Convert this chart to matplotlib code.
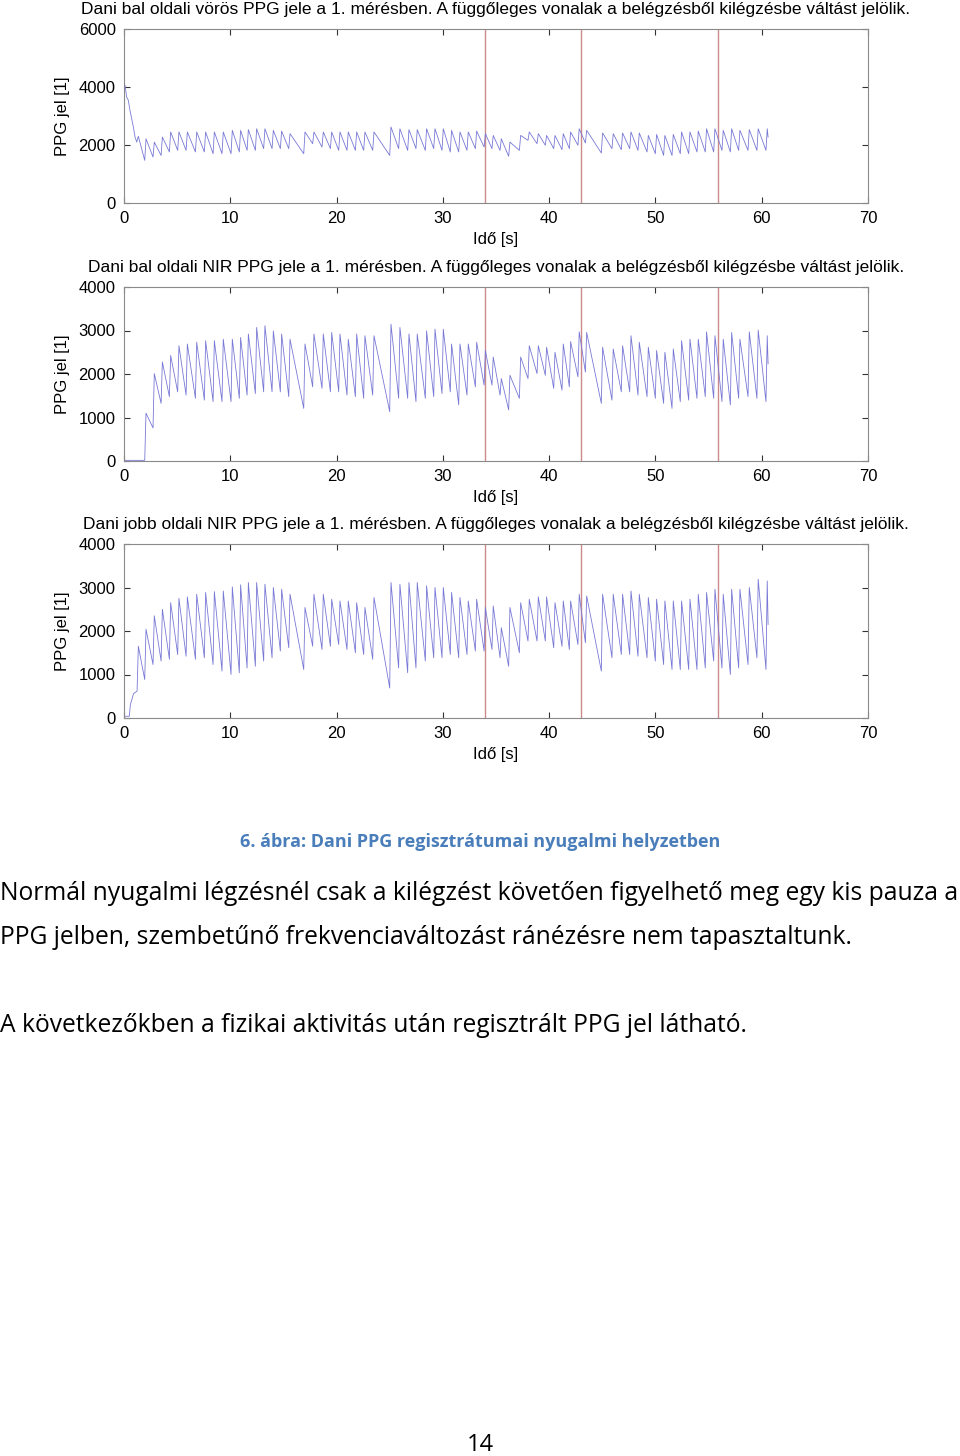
import numpy as np
import matplotlib
matplotlib.use("Agg")
import matplotlib.pyplot as plt

plt.rcParams['font.family'] = ['Liberation Sans', 'DejaVu Sans']

# beat (peak) times in seconds, shared by the three recordings
beat_t = [1.35, 2.07, 2.85, 3.61, 4.39, 5.17, 5.96, 6.84, 7.68, 8.50,
          9.34, 10.19, 10.97, 11.70, 12.48, 13.26, 14.05, 14.83, 15.62, 17.03,
          17.87, 18.75, 19.54, 20.32, 21.10, 21.89, 22.67, 23.52, 25.12, 25.96,
          26.81, 27.59, 28.47, 29.26, 30.04, 30.82, 31.61, 32.39, 33.18, 34.00,
          34.74, 35.50, 36.31, 37.32, 38.13, 38.98, 39.76, 40.55, 41.33, 42.02,
          42.83, 43.53, 45.03, 46.03, 46.91, 47.70, 48.48, 49.33, 50.11, 50.89,
          51.68, 52.46, 53.25, 54.03, 54.81, 55.60, 56.38, 57.17, 57.95, 58.83,
          59.67, 60.52]
end_t = 60.6

# breathing marks (inspiration -> expiration)
marks = [34.0, 43.0, 55.9]

# left red PPG
red_lead_t = [0.0, 0.1, 0.25, 0.4, 0.56, 0.88, 1.04, 1.2]
red_lead_v = [4100, 4050, 3650, 3550, 3200, 2620, 2275, 2100]
red_peak = [2300, 2215, 2100, 2275, 2450, 2450, 2450, 2450, 2450, 2450,
            2450, 2505, 2505, 2530, 2560, 2560, 2505, 2480, 2390, 2450,
            2450, 2450, 2450, 2450, 2450, 2450, 2450, 2450, 2620, 2560,
            2530, 2530, 2560, 2560, 2560, 2505, 2450, 2450, 2480, 2390,
            2330, 2215, 2100, 2330, 2450, 2390, 2330, 2330, 2390, 2450,
            2560, 2505, 2415, 2390, 2415, 2450, 2415, 2330, 2365, 2330,
            2365, 2450, 2450, 2480, 2560, 2560, 2505, 2560, 2505, 2530,
            2560, 2560]
red_trough = [1470, 1585, 1640, 1760, 1815, 1815, 1760, 1760, 1700, 1700,
              1700, 1760, 1815, 1815, 1875, 1875, 1875, 1875, 1700, 2045,
              1930, 1875, 1815, 1815, 1815, 1815, 1815, 1640, 1875, 1815,
              1875, 1815, 1875, 1815, 1760, 1760, 1815, 1875, 1930, 1875,
              1815, 1610, 1815, 2160, 2045, 1990, 1875, 1840, 1875, 1990,
              2070, 1725, 1875, 1840, 1875, 1815, 1760, 1700, 1640, 1640,
              1700, 1700, 1760, 1760, 1760, 1815, 1760, 1815, 1815, 1815,
              1815, 2275]

# left NIR PPG
nirl_lead_t = [0.0, 1.2]
nirl_lead_v = [15, 15]
nirl_peak = [15, 1100, 2010, 2275, 2425, 2650, 2690, 2730, 2765, 2765,
             2800, 2800, 2840, 2920, 3070, 3110, 2990, 2920, 2800, 2690,
             2920, 2920, 2955, 2920, 2800, 2920, 2880, 2880, 3145, 3070,
             2920, 2920, 2990, 3030, 3030, 2690, 2690, 2690, 2730, 2540,
             2390, 1895, 1970, 2390, 2650, 2650, 2615, 2500, 2690, 2745,
             2970, 2955, 2615, 2575, 2650, 2880, 2730, 2615, 2540, 2500,
             2575, 2765, 2800, 2800, 2970, 2880, 2800, 2955, 2800, 2970,
             3010, 2880]
nirl_trough = [15, 760, 1325, 1480, 1590, 1515, 1440, 1400, 1365, 1365,
               1365, 1440, 1515, 1550, 1590, 1590, 1590, 1480, 1210, 1705,
               1670, 1590, 1590, 1515, 1480, 1440, 1515, 1135, 1440, 1440,
               1365, 1440, 1480, 1550, 1590, 1290, 1515, 1705, 1745, 1745,
               1515, 1175, 1440, 1895, 2010, 1970, 1670, 1630, 1705, 1935,
               2045, 1325, 1400, 1590, 1590, 1515, 1480, 1440, 1325, 1210,
               1365, 1400, 1440, 1480, 1440, 1365, 1290, 1440, 1480, 1440,
               1365, 2235]

# right NIR PPG
nirr_lead_t = [0.0, 0.5, 0.6, 0.9, 1.23]
nirr_lead_v = [40, 40, 310, 560, 620]
nirr_peak = [1650, 2040, 2350, 2500, 2650, 2750, 2785, 2845, 2885, 2905,
             2920, 3015, 3060, 3115, 3115, 3075, 3000, 2960, 2845, 2540,
             2845, 2845, 2730, 2690, 2690, 2650, 2540, 2770, 3115, 3075,
             3115, 3115, 3040, 3000, 3000, 2885, 2770, 2690, 2730, 2540,
             2575, 2075, 2540, 2650, 2730, 2785, 2785, 2650, 2690, 2690,
             2845, 2805, 2845, 2845, 2845, 2920, 2845, 2770, 2730, 2690,
             2690, 2690, 2730, 2845, 2885, 2960, 2845, 2960, 2960, 3000,
             3190, 3150]
nirr_trough = [885, 1230, 1310, 1350, 1460, 1420, 1350, 1385, 1230, 1080,
               1000, 1040, 1150, 1190, 1310, 1385, 1540, 1615, 1115, 1650,
               1575, 1650, 1690, 1575, 1500, 1460, 1350, 690, 1150, 1040,
               1150, 1310, 1385, 1385, 1460, 1385, 1460, 1540, 1540, 1575,
               1385, 1190, 1500, 1770, 1770, 1770, 1615, 1650, 1575, 1690,
               1730, 1080, 1385, 1460, 1460, 1420, 1385, 1310, 1230, 1115,
               1115, 1115, 1115, 1150, 1310, 1150, 1000, 1150, 1230, 1385,
               1115, 2150]

titles = [
    "Dani bal oldali vörös PPG jele a 1. mérésben. A függőleges vonalak a belégzésből kilégzésbe váltást jelölik.",
    "Dani bal oldali NIR PPG jele a 1. mérésben. A függőleges vonalak a belégzésből kilégzésbe váltást jelölik.",
    "Dani jobb oldali NIR PPG jele a 1. mérésben. A függőleges vonalak a belégzésből kilégzésbe váltást jelölik.",
]
yticks = [[0, 2000, 4000, 6000], [0, 1000, 2000, 3000, 4000], [0, 1000, 2000, 3000, 4000]]
ylims = [6000, 4000, 4000]


def build(lead_t, lead_v, peaks, troughs):
    # rise to each peak, slow fall to the trough just before the next beat
    t = list(lead_t)
    v = list(lead_v)
    nxt = beat_t[1:] + [end_t + 0.12]
    for bt, pk, nt, tr in zip(beat_t, peaks, nxt, troughs):
        t += [bt, nt - 0.12]
        v += [pk, tr]
    return np.array(t), np.array(v)


series = [build(red_lead_t, red_lead_v, red_peak, red_trough),
          build(nirl_lead_t, nirl_lead_v, nirl_peak, nirl_trough),
          build(nirr_lead_t, nirr_lead_v, nirr_peak, nirr_trough)]

fig = plt.figure(figsize=(9.6, 14.56), dpi=100)
bottoms = [1 - 203 / 1456, 1 - 461 / 1456, 1 - 718 / 1456]
for i in range(3):
    ax = fig.add_axes([124 / 960, bottoms[i], 744 / 960, 174 / 1456])
    t, v = series[i]
    for m in marks:
        ax.axvline(m, color='#cc8a8a', lw=1.0)
    ax.plot(t, v, color='#7878d6', lw=0.6)
    ax.set_xlim(0, 70)
    ax.set_ylim(0, ylims[i])
    ax.set_xticks(range(0, 71, 10))
    ax.set_yticks(yticks[i])
    ax.tick_params(direction='in', top=True, right=True, length=4,
                   labelsize=12, color='#333333', pad=6)
    for s in ax.spines.values():
        s.set_color('#8a8a8a')
        s.set_linewidth(0.8)
    ax.set_title(titles[i], fontsize=12.5, pad=11)
    ax.set_xlabel("Idő [s]", fontsize=12, labelpad=4)
    ax.set_ylabel("PPG jel [1]", fontsize=12, labelpad=6)

fig.text(0.5, 1 - 842 / 1456, "6. ábra: Dani PPG regisztrátumai nyugalmi helyzetben",
         ha='center', va='center', fontsize=13, fontweight='bold',
         color='#4a7ebb', family=['Open Sans', 'DejaVu Sans'])
body = [
    (893, "Normál nyugalmi légzésnél csak a kilégzést követően figyelhető meg egy kis pauza a"),
    (937, "PPG jelben, szembetűnő frekvenciaváltozást ránézésre nem tapasztaltunk."),
    (1025, "A következőkben a fizikai aktivitás után regisztrált PPG jel látható."),
]
for y, s in body:
    fig.text(0.0, 1 - y / 1456, s, ha='left', va='center', fontsize=17.75,
             family=['Open Sans', 'DejaVu Sans'])
fig.text(0.5, 1 - 1445 / 1456, "14", ha='center', va='center', fontsize=17,
         family=['Open Sans', 'DejaVu Sans'])

fig.savefig("out.png", dpi=100)
